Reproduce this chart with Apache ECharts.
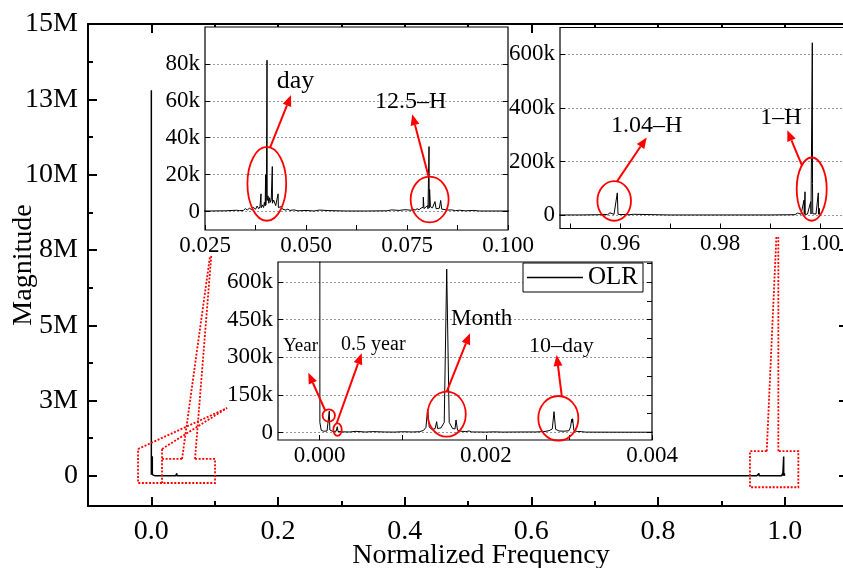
<!DOCTYPE html>
<html>
<head>
<meta charset="utf-8">
<script src="https://cdn.jsdelivr.net/npm/echarts@6/dist/echarts.min.js"></script>
<style>html,body{margin:0;padding:0;background:#fff}#main{width:843px;height:568px}</style>
</head>
<body>
<div id="main"></div>
<script>
// ---------------- data (frequency, magnitude) ----------------
const lowBand = [
  [0, 12800000], [0.000004, 40000], [0.00002, 9000], [0.00005, 5000], [0.00009, 6000],
  [0.00011, 12000], [0.000117, 85000], [0.000124, 10000], [0.00016, 4000], [0.0002, 5000],
  [0.000213, 23000], [0.000222, 4000], [0.00028, 2500], [0.00036, 2000], [0.00044, 4500],
  [0.00046, 2000], [0.00055, 1800], [0.00064, 3500], [0.00066, 1500], [0.00078, 2000],
  [0.0009, 1500], [0.001, 3000], [0.00102, 1500], [0.00112, 2000], [0.0012, 3000],
  [0.00125, 8000], [0.00128, 20000], [0.0013, 93000], [0.00132, 22000], [0.00135, 12000],
  [0.00139, 15000], [0.001409, 43000], [0.00142, 16000], [0.00146, 18000], [0.0015, 40000],
  [0.00153, 652000], [0.00156, 40000], [0.0016, 16000], [0.00163, 14000], [0.001642, 50000],
  [0.00166, 9000], [0.0017, 5000], [0.00176, 3500], [0.0018, 6000], [0.00183, 2000],
  [0.0019, 2000], [0.002, 1500], [0.0021, 2500], [0.0022, 1500], [0.0024, 2000],
  [0.0026, 2000], [0.0027, 3500], [0.00276, 7000], [0.0028, 14000], [0.002821, 83000],
  [0.00284, 13000], [0.00288, 6000], [0.00294, 5000], [0.003, 7000], [0.00302, 22000],
  [0.003034, 53000], [0.00304, 40000], [0.003045, 55000], [0.00306, 8000], [0.0031, 4000],
  [0.00315, 3500], [0.0032, 1500], [0.0035, 1200], [0.004, 1000]
];
const dayBand = [
  [0.006, 900], [0.012, 700], [0.02, 500], [0.026, 300], [0.03, 400], [0.0328, 700],
  [0.0332, 1500], [0.0336, 500], [0.034, 1300], [0.0345, 600], [0.035, 1600], [0.0355, 800],
  [0.036, 1900], [0.0365, 1000], [0.037, 2300], [0.0375, 1200], [0.0379, 3000], [0.0383, 1500],
  [0.0386, 2600], [0.03886, 9600], [0.0389, 2000], [0.0392, 3600], [0.0395, 2200], [0.0397, 5000],
  [0.0399, 3000], [0.04, 20000], [0.04005, 3500], [0.0402, 9000], [0.04035, 82000], [0.0404, 6000],
  [0.0406, 8500], [0.0408, 4500], [0.041, 7500], [0.0412, 5000], [0.0414, 6500], [0.04166, 24400],
  [0.0417, 4500], [0.042, 6200], [0.04233, 7000], [0.0425, 3200], [0.0428, 2600], [0.0431, 9600],
  [0.04316, 2200], [0.0435, 1600], [0.0438, 2600], [0.044, 3200], [0.0442, 1300], [0.0446, 1800],
  [0.045, 800], [0.0455, 1300], [0.046, 600], [0.047, 900], [0.048, 400], [0.05, 600],
  [0.052, 300], [0.0533, 800], [0.0557, 500], [0.06, 300], [0.065, 300], [0.07, 400],
  [0.0712, 900], [0.073, 600], [0.0745, 1000], [0.076, 700], [0.0765, 1300], [0.077, 800],
  [0.0775, 1500], [0.078, 1000], [0.0785, 1900], [0.079, 2300], [0.07904, 7800], [0.0792, 1600],
  [0.0796, 2200], [0.08012, 3200], [0.0802, 1500], [0.08045, 35200], [0.0805, 2000], [0.0806, 12000],
  [0.0808, 2600], [0.081, 3200], [0.0813, 2000], [0.08193, 5400], [0.0822, 1500], [0.0826, 2200],
  [0.083, 1800], [0.08334, 6000], [0.0836, 1300], [0.084, 1600], [0.0845, 1000], [0.085, 800],
  [0.086, 900], [0.087, 500], [0.088, 700], [0.0895, 400], [0.0914, 600], [0.093, 300], [0.1, 300]
];
const midBand = [
  [0.15, 300], [0.3, 200], [0.5, 200], [0.7, 200], [0.9, 300],
  [0.9212, 1500], [0.9217, 50000], [0.9222, 1500], [0.94, 400]
];
const hourBand = [
  [0.948, 500], [0.952, 600], [0.956, 1500], [0.957, 2500], [0.9575, 1200], [0.958, 8700],
  [0.9582, 1500], [0.9588, 2500], [0.959, 8000], [0.9592, 2000], [0.95946, 83000], [0.9596, 3000],
  [0.96, 10000], [0.9602, 2000], [0.961, 2500], [0.9618, 1200], [0.9627, 3000], [0.963, 800],
  [0.97, 500], [0.98, 500], [0.99, 600], [0.995, 1500], [0.99554, 8000], [0.9957, 1500],
  [0.9962, 3000], [0.9966, 2000], [0.9968, 56000], [0.99685, 3000], [0.997, 87000], [0.99705, 2000],
  [0.9975, 4000], [0.9979, 3000], [0.99814, 50000], [0.9982, 4000], [0.99846, 643000], [0.9985, 118000],
  [0.99855, 5000], [0.9992, 4000], [0.99966, 83000], [0.9997, 3000], [0.99986, 25000], [0.9999, 2000],
  [1.0, 1000]
];
const seriesName = 'OLR';

// ---------------- tick values ----------------
const mainXMajor = [0, 0.2, 0.4, 0.6, 0.8, 1.0];
const mainXMinor = [0.1, 0.3, 0.5, 0.7, 0.9];
const mainYMajor = [0, 2500000, 5000000, 7500000, 10000000, 12500000, 15000000];
const mainYMinor = [1250000, 3750000, 6250000, 8750000, 11250000, 13750000];
const in1XTicks = [0.025, 0.0375, 0.05, 0.0625, 0.075, 0.0875, 0.1];
const in1XLabels = [0.025, 0.05, 0.075, 0.1];
const in1YTicks = [0, 20000, 40000, 60000, 80000];
const in2XTicks = [0.95, 0.96, 0.97, 0.98, 0.99, 1.0];
const in2XLabels = [0.96, 0.98, 1.0];
const in2YTicks = [0, 200000, 400000, 600000];
const in3XTicks = [0, 0.001, 0.002, 0.003, 0.004];
const in3XLabels = [0, 0.002, 0.004];
const in3YTicks = [0, 150000, 300000, 450000, 600000];
const in3YRightTicks = [0, 75000, 150000, 225000, 300000, 375000, 450000, 525000, 600000, 675000];

const spectrum = lowBand.concat(dayBand, midBand, hourBand);

const FONT = 'Liberation Serif';
const kFmt = v => v === 0 ? '0' : Math.round(v / 1000) + 'k';
const mFmt = v => v === 0 ? '0' : Math.round(v / 1e6) + 'M';

function mainX(pos, ticks, len, withLine, label) {
  return {
    type: 'value', gridIndex: 0, min: -0.1, max: 1.1, position: pos,
    axisLine: { show: withLine, onZero: false, lineStyle: { color: '#000', width: 2 } },
    axisTick: { show: true, inside: true, length: len, customValues: ticks, lineStyle: { color: '#000', width: 2 } },
    axisLabel: label ? { show: true, customValues: ticks, formatter: v => v.toFixed(1), fontFamily: FONT, fontSize: 28, color: '#000', margin: 12 } : { show: false },
    splitLine: { show: false }
  };
}
function mainY(pos, ticks, len, withLine, label) {
  return {
    type: 'value', gridIndex: 0, min: -1000000, max: 15000000, position: pos,
    axisLine: { show: withLine, onZero: false, lineStyle: { color: '#000', width: 2 } },
    axisTick: { show: true, inside: true, length: len, customValues: ticks, lineStyle: { color: '#000', width: 2 } },
    axisLabel: label ? { show: true, customValues: ticks, formatter: mFmt, fontFamily: FONT, fontSize: 28, color: '#000', margin: 10 } : { show: false },
    splitLine: { show: false }
  };
}
function insetX(grid, min, max, ticks, labels, digits) {
  return {
    type: 'value', gridIndex: grid, min: min, max: max, position: 'bottom', z: 4,
    axisLine: { show: false, onZero: false },
    axisTick: { show: true, inside: true, length: 5, customValues: ticks, lineStyle: { color: '#000', width: 1 } },
    axisLabel: { show: true, customValues: labels, formatter: v => v.toFixed(digits), fontFamily: FONT, fontSize: 23, color: '#000', margin: 4 },
    splitLine: { show: false }
  };
}
function insetY(grid, min, max, ticks, pos, label, split) {
  return {
    type: 'value', gridIndex: grid, min: min, max: max, position: pos, z: 4,
    axisLine: { show: false, onZero: false },
    axisTick: { show: true, inside: true, length: 5, customValues: ticks, lineStyle: { color: '#000', width: 1 } },
    axisLabel: label ? { show: true, customValues: ticks, formatter: kFmt, fontFamily: FONT, fontSize: 23, color: '#000', margin: 5 } : { show: false },
    splitLine: { show: split, lineStyle: { color: '#999', width: 1, type: [2, 2] } }
  };
}
function insetGrid(left, top, width, height) {
  return { left: left, top: top, width: width, height: height, show: true, backgroundColor: '#fff',
           borderColor: '#000', borderWidth: 1.2, z: 3, containLabel: false, outerBoundsMode: 'none' };
}
function lineSeries(xi, yi, width, z) {
  return { type: 'line', name: seriesName, xAxisIndex: xi, yAxisIndex: yi, data: spectrum,
           showSymbol: false, symbol: 'none', z: z, clip: true, animation: false,
           lineStyle: { color: '#000', width: width }, itemStyle: { color: '#000' } };
}

const xMainBottom = mainX('bottom', mainXMajor, 9, true, true);
xMainBottom.name = 'Normalized Frequency';
xMainBottom.nameLocation = 'middle';
xMainBottom.nameGap = 36;
xMainBottom.nameMoveOverlap = false;
xMainBottom.nameTextStyle = { fontFamily: FONT, fontSize: 28, color: '#000', padding: [0, 0, 0, 26] };
const yMainLeft = mainY('left', mainYMajor, 9, true, true);
yMainLeft.name = 'Magnitude';
yMainLeft.nameLocation = 'middle';
yMainLeft.nameRotate = 90;
yMainLeft.nameGap = 50;
yMainLeft.nameMoveOverlap = false;
yMainLeft.nameTextStyle = { fontFamily: FONT, fontSize: 28, color: '#000' };

const option = {
  animation: false,
  backgroundColor: '#fff',
  grid: [
    { left: 88, top: 24, width: 760, height: 482, show: false, containLabel: false, outerBoundsMode: 'none' },
    insetGrid(205, 27, 303, 203),
    insetGrid(560, 27.5, 285, 201),
    insetGrid(278, 262, 374, 178)
  ],
  xAxis: [
    xMainBottom,
    mainX('bottom', mainXMinor, 5, false, false),
    mainX('top', mainXMajor, 9, true, false),
    mainX('top', mainXMinor, 5, false, false),
    insetX(1, 0.025, 0.1, in1XTicks, in1XLabels, 3),
    insetX(2, 0.948, 1.005, in2XTicks, in2XLabels, 2),
    insetX(3, -0.0005, 0.004, in3XTicks, in3XLabels, 3)
  ],
  yAxis: [
    yMainLeft,
    mainY('left', mainYMinor, 5, false, false),
    mainY('right', mainYMajor, 9, true, false),
    mainY('right', mainYMinor, 5, false, false),
    insetY(1, -10000, 100000, in1YTicks, 'left', true, true),
    insetY(1, -10000, 100000, in1YTicks, 'right', false, false),
    insetY(2, -50000, 700000, in2YTicks, 'left', true, true),
    insetY(3, -30000, 680000, in3YTicks, 'left', true, true),
    insetY(3, -30000, 680000, in3YRightTicks, 'right', false, false)
  ],
  legend: {
    show: true, left: 523, top: 263, z: 10, selectedMode: false,
    data: [{ name: seriesName, icon: 'rect' }],
    itemWidth: 56, itemHeight: 1.5,
    borderColor: '#000', borderWidth: 1, backgroundColor: '#fff',
    padding: [2, 5, 2, 4],
    textStyle: { fontFamily: FONT, fontSize: 25, color: '#000' }
  },
  series: [
    lineSeries(0, 0, 1.5, 2),
    lineSeries(4, 4, 1, 5),
    lineSeries(5, 6, 1, 5),
    lineSeries(6, 7, 1, 5)
  ]
};

const chart = echarts.init(document.getElementById('main'), null, { renderer: 'canvas' });
chart.setOption(option);

// ---------------- annotations (in data coordinates of each grid) ----------------
const ellipses = [
  { g: 1, c: [0.0403, 15000], r: [0.0048, 20000] },
  { g: 1, c: [0.0806, 6500], r: [0.0047, 12400] },
  { g: 2, c: [0.95884, 53000], r: [0.00336, 74000] },
  { g: 2, c: [0.99834, 97000], r: [0.003, 118000] },
  { g: 3, c: [0.000111, 67800], r: [0.0000746, 24700] },
  { g: 3, c: [0.000216, 11200], r: [0.0000505, 25100] },
  { g: 3, c: [0.00153, 73000], r: [0.000229, 89700] },
  { g: 3, c: [0.002873, 56600], r: [0.000241, 89000] }
];
const arrows = [
  { g: 1, from: [0.0411, 34600], to: [0.0463, 63100] },
  { g: 1, from: [0.0803, 19200], to: [0.0763, 52700] },
  { g: 2, from: [0.95934, 124000], to: [0.96534, 290000] },
  { g: 2, from: [0.99634, 187000], to: [0.99346, 317000] },
  { g: 3, from: [0.0000655, 89700], to: [-0.000135, 238500] },
  { g: 3, from: [0.000206, 36700], to: [0.000507, 316000] },
  { g: 3, from: [0.00153, 162700], to: [0.00181, 395700] },
  { g: 3, from: [0.002914, 145600], to: [0.002853, 309000] }
];
const labels = [
  { g: 1, text: 'day', at: [0.0474, 70700], size: 26 },
  { g: 1, text: '12.5\u2013H', at: [0.0759, 59300], size: 24 },
  { g: 2, text: '1.04\u2013H', at: [0.96534, 332000], size: 24 },
  { g: 2, text: '1\u2013H', at: [0.9922, 362000], size: 24 },
  { g: 3, text: 'Year', at: [-0.000229, 345000], size: 19 },
  { g: 3, text: '0.5 year', at: [0.000647, 349000], size: 20 },
  { g: 3, text: 'Month', at: [0.00195, 452700], size: 23 },
  { g: 3, text: '10\u2013day', at: [0.002909, 345000], size: 22 }
];
const connectors = [
  [[0.069, 561000], [0.1006, 561000], [0.1006, -236000], [-0.021, -236000], [-0.021, 893000]],
  [[0.0169, 893000], [0.0169, -236000]],
  [[0.0169, 561000], [0.0485, 561000]],
  [[-0.021, 893000], [0.1195, 2254000]],
  [[0.0169, 893000], [0.1195, 2254000]],
  [[0.0485, 561000], [0.0927, 7300000]],
  [[0.069, 561000], [0.0946, 7300000]],
  [[0.9717, 820000], [0.9452, 820000], [0.9452, -378000], [1.0216, -378000], [1.0216, 820000], [0.990, 820000]],
  [[0.9717, 820000], [0.9753, 2520000], [0.9869, 7930000]],
  [[0.990, 820000], [0.990, 7930000]]
];

function px(g, p) { return chart.convertToPixel({ gridIndex: g }, p); }
const RED = '#ff0000';
const elements = [];
connectors.forEach(path => {
  elements.push({ type: 'polyline', z: 20, silent: true,
    shape: { points: path.map(p => px(0, p)) },
    style: { stroke: RED, lineWidth: 1.8, lineDash: [2, 1.6], fill: null } });
});
ellipses.forEach(e => {
  const c = px(e.g, e.c);
  const rx = Math.abs(px(e.g, [e.c[0] + e.r[0], e.c[1]])[0] - c[0]);
  const ry = Math.abs(px(e.g, [e.c[0], e.c[1] + e.r[1]])[1] - c[1]);
  elements.push({ type: 'ellipse', z: 20, silent: true, shape: { cx: c[0], cy: c[1], rx: rx, ry: ry },
    style: { stroke: RED, lineWidth: 1.8, fill: null } });
});
arrows.forEach(a => {
  const p1 = px(a.g, a.from), p2 = px(a.g, a.to);
  const dx = p2[0] - p1[0], dy = p2[1] - p1[1], len = Math.hypot(dx, dy);
  const ux = dx / len, uy = dy / len, L = 11, W = 4.5;
  const b = [p2[0] - ux * L, p2[1] - uy * L];
  elements.push({ type: 'line', z: 20, silent: true, shape: { x1: p1[0], y1: p1[1], x2: b[0], y2: b[1] },
    style: { stroke: RED, lineWidth: 2 } });
  elements.push({ type: 'polygon', z: 20, silent: true,
    shape: { points: [p2, [b[0] - uy * W, b[1] + ux * W], [b[0] + uy * W, b[1] - ux * W]] },
    style: { fill: RED } });
});
labels.forEach(l => {
  const p = px(l.g, l.at);
  elements.push({ type: 'text', z: 21, silent: true, x: p[0], y: p[1],
    style: { text: l.text, fontFamily: FONT, fontSize: l.size, fill: '#000', align: 'center', verticalAlign: 'middle' } });
});
chart.setOption({ graphic: { elements: elements } });
</script>
</body>
</html>
